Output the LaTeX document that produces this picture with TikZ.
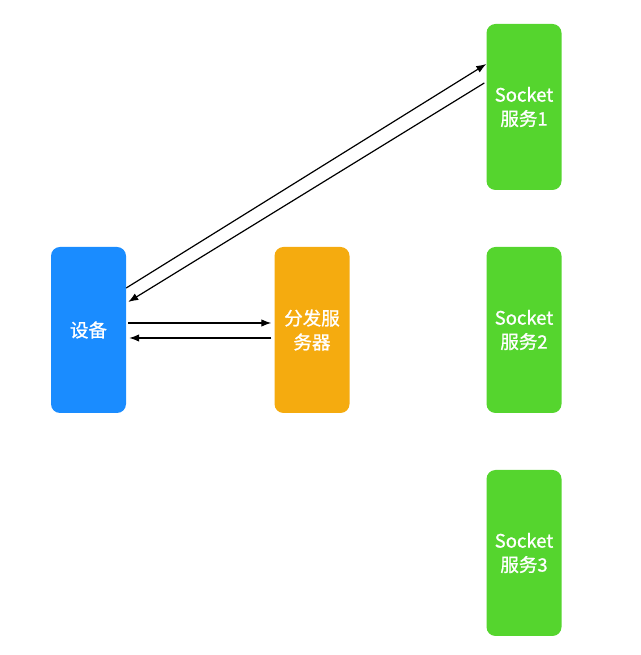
\documentclass[tikz,border=0pt]{standalone}
\usepackage{fontspec}
\setmainfont{Noto Sans CJK SC}
\newfontfamily\boxfont{Noto Sans CJK SC}[FakeBold=1]
\usetikzlibrary{arrows.meta}
\definecolor{devblue}{HTML}{1A8CFF}
\definecolor{distorange}{HTML}{F5AB0F}
\definecolor{sockgreen}{HTML}{55D52E}
\tikzset{
  srvbox/.style={rounded corners=9pt, minimum width=75pt, minimum height=166pt,
    text width=72pt, align=center, text=white, inner sep=0pt,
    font=\boxfont\fontsize{18.5}{24}\selectfont},
  link/.style={line width=1.2pt, -{Latex[length=10pt,width=7.5pt]}}
}
\begin{document}
\begin{tikzpicture}[x=1pt,y=1pt]
\useasboundingbox (0,0) rectangle (640,655);
% boxes
\node[srvbox, fill=devblue] (dev) at (88.5,325) {设备};
\node[srvbox, fill=distorange] (disp) at (312,325) {分发服\\务器};
\node[srvbox, fill=sockgreen] (s1) at (524,548) {Socket\\服务1};
\node[srvbox, fill=sockgreen] (s2) at (524,325) {Socket\\服务2};
\node[srvbox, fill=sockgreen] (s3) at (524,102) {Socket\\服务3};
% device <-> dispatcher
\draw[link] ([shift={(2pt,7pt)}]dev.east) -- ([shift={(-3pt,7pt)}]disp.west);
\draw[link] ([shift={(-3pt,-8pt)}]disp.west) -- ([shift={(3pt,-8pt)}]dev.east);
% device <-> socket 1
\draw[link] ([yshift=42pt]dev.east) -- ([yshift=43pt]s1.west);
\draw[link] ([shift={(-2pt,24pt)}]s1.west) -- ([shift={(2pt,28pt)}]dev.east);
\end{tikzpicture}
\end{document}
